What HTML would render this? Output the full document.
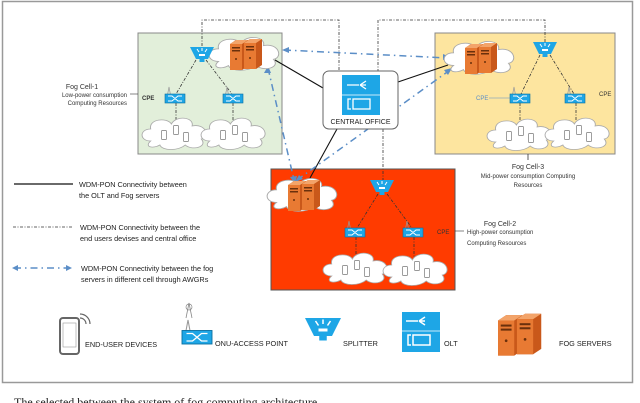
<!DOCTYPE html>
<html><head><meta charset="utf-8"><style>
body{margin:0;background:#fff}
svg{display:block;font-family:"Liberation Sans",sans-serif}
</style></head><body>
<svg width="640" height="403" viewBox="0 0 640 403" xmlns="http://www.w3.org/2000/svg">
<defs>
<g id="cloud">
<path d="M-22,8 C-32,8 -32,-4 -22,-4 C-24,-14 -8,-16 -4,-9 C0,-18 16,-16 14,-7 C26,-10 30,4 22,6 C28,14 14,18 8,12 C2,18 -12,18 -14,12 C-20,16 -28,14 -22,8 Z" fill="#fff" stroke="#aaa" stroke-width="0.8"/>
</g>
<g id="phone"><rect x="-2.5" y="-4.5" width="5" height="9" rx="0.8" fill="#fff" stroke="#777" stroke-width="0.7"/></g>
<g id="phones"><use href="#phone" x="-12" y="2"/><use href="#phone" x="0" y="-3"/><use href="#phone" x="10" y="4"/></g>
<g id="srv">
<polygon points="0,4 6,0 18,0 18,26 12,30 0,30" fill="#c9581a"/>
<polygon points="0,4 6,0 18,0 12,4" fill="#f3a46a"/>
<rect x="0" y="4" width="12" height="26" fill="#e87a33"/>
<rect x="2" y="7" width="8" height="1.5" fill="#6a300c"/><rect x="2" y="10" width="8" height="1.5" fill="#6a300c"/>
<circle cx="6" cy="19" r="1" fill="#6a300c"/>
</g>
<g id="srv2"><use href="#srv" x="-17" y="-14"/><use href="#srv" x="-3" y="-15"/></g>
<g id="spl">
<polygon points="-12,-8 12,-8 6,4 -6,4" fill="#1ea6e6"/>
<rect x="-2.5" y="3" width="5" height="4" fill="#1ea6e6"/>
<path d="M-3,-1 h6 v2 h-6z" fill="#fff"/><path d="M-5,-6 l2,3 M0,-7 v3 M5,-6 l-2,3" stroke="#fff" stroke-width="1"/>
</g>
<g id="onu">
<path d="M-9,4 L-6,-12 L-3,4" stroke="#999" stroke-width="0.7" fill="none"/>
<rect x="-10" y="-5" width="20" height="9" fill="#1ea6e6" stroke="#0b6fa0" stroke-width="0.6"/>
<path d="M-7,-3 h4 l6,5 h4 M-7,2 h4 l6,-5 h4" stroke="#fff" stroke-width="0.9" fill="none"/>
</g>
</defs>
<rect x="2.5" y="1.5" width="630" height="381" fill="#fff" stroke="#999" stroke-width="1.5"/>

<rect x="138" y="33" width="144" height="121" fill="#e2efda" stroke="#888" stroke-width="1"/>
<rect x="435" y="33" width="180" height="121" fill="#fde59f" stroke="#888" stroke-width="1"/>
<rect x="271" y="169" width="184" height="121" fill="#ff3b00" stroke="#555" stroke-width="1"/>

<g stroke="#333" stroke-width="0.8" fill="none" stroke-dasharray="3,1.5,1,1.5">
<path d="M202,46 V20 H339 V71"/><path d="M545,42 V20 H378 V71"/><path d="M383,129 V182"/>
<path d="M196,60 L176,94 M206,60 L232,94 M176,103 V122 M233,103 V122"/>
<path d="M540,55 L521,94 M550,55 L574,94 M520,103 V122 M576,103 V122"/>
<path d="M378,194 L357,228 M387,194 L412,228 M356,237 V258 M414,237 V258"/>
</g>

<g stroke="#111" stroke-width="1.1" fill="none">
<path d="M275,60 L323,88"/><path d="M398,82 L448,65"/><path d="M337,129 L310,178"/>
</g>
<g stroke="#5b8ec7" stroke-width="1.5" fill="none" stroke-dasharray="7,4,1.5,4">
<path d="M284,50 L448,58"/><path d="M450,70 L297,180"/><path d="M268,68 L294,180"/>
<path d="M14,268 H68"/>
</g>
<g fill="#5b8ec7">
<polygon points="282,50 289,47 289,53"/><polygon points="450,57 443,54 443,60"/>
<polygon points="452,68 444,70 448,75"/><polygon points="295,182 299,175 303,179"/>
<polygon points="268,66 264,73 271,73"/><polygon points="295,184 290,177 297,176"/>
<polygon points="12,268 18,265 18,271"/><polygon points="72,268 66,265 66,271"/>
</g>

<use href="#cloud" transform="translate(246,53) scale(1.25,1.05)"/><use href="#srv2" x="247" y="54"/>
<use href="#cloud" transform="translate(481,57) scale(1.25,1.05)"/><use href="#srv2" x="482" y="58"/>
<use href="#cloud" transform="translate(304,194) scale(1.25,1.05)"/><use href="#srv2" x="305" y="195"/>
<use href="#spl" x="202" y="55"/><use href="#spl" x="545" y="50"/><use href="#spl" x="382" y="188"/>
<use href="#onu" x="175" y="99"/><use href="#onu" x="233" y="99"/>
<use href="#onu" x="520" y="99"/><use href="#onu" x="575" y="99"/>
<use href="#onu" x="355" y="233"/><use href="#onu" x="413" y="233"/>
<g transform="translate(176,133) scale(1.15,1)"><use href="#cloud"/></g><use href="#phones" x="176" y="133"/>
<g transform="translate(235,133) scale(1.15,1)"><use href="#cloud"/></g><use href="#phones" x="235" y="133"/>
<g transform="translate(521,134) scale(1.15,1)"><use href="#cloud"/></g><use href="#phones" x="521" y="134"/>
<g transform="translate(579,133) scale(1.15,1)"><use href="#cloud"/></g><use href="#phones" x="579" y="133"/>
<g transform="translate(357,268) scale(1.15,1)"><use href="#cloud"/></g><use href="#phones" x="357" y="268"/>
<g transform="translate(417,269) scale(1.15,1)"><use href="#cloud"/></g><use href="#phones" x="417" y="269"/>

<rect x="323" y="71" width="75" height="58" rx="6" fill="#fff" stroke="#666" stroke-width="1"/>
<rect x="342" y="75" width="38" height="40" fill="#1ea6e6"/>
<line x1="342" y1="95" x2="380" y2="95" stroke="#fff" stroke-width="0.8"/>
<path d="M347,85 h12 M360,85 l6,-4 M360,85 l6,0 M360,85 l6,4" stroke="#fff" stroke-width="1.3"/>
<rect x="353" y="99" width="17" height="10" fill="none" stroke="#fff" stroke-width="1.3"/>
<path d="M351,99 h-3 v10 h3" stroke="#fff" stroke-width="1.3" fill="none"/>
<text x="360.5" y="124" font-size="7" text-anchor="middle" fill="#222">CENTRAL OFFICE</text>

<g font-size="6" fill="#333">
<text x="82" y="89" font-size="7" text-anchor="middle">Fog Cell-1</text>
<text x="127" y="97" text-anchor="end">Low-power consumption</text>
<text x="127" y="105" text-anchor="end">Computing Resources</text>
<line x1="130" y1="94" x2="138" y2="94" stroke="#333" stroke-width="0.6"/>
<text x="142" y="100" font-weight="bold">CPE</text>
<text x="476" y="100" fill="#5b8ec7">CPE</text>
<line x1="489" y1="98" x2="510" y2="98" stroke="#5b8ec7" stroke-width="0.6"/>
<text x="599" y="96">CPE</text>
<line x1="528" y1="154" x2="528" y2="160" stroke="#333" stroke-width="0.8"/>
<text x="528" y="169" font-size="7" text-anchor="middle">Fog Cell-3</text>
<text x="528" y="178" text-anchor="middle">Mid-power consumption Computing</text>
<text x="528" y="187" text-anchor="middle">Resources</text>
<text x="437" y="234" fill="#333">CPE</text>
<line x1="455" y1="231" x2="464" y2="231" stroke="#333" stroke-width="0.6"/>
<text x="500" y="226" font-size="7" text-anchor="middle">Fog Cell-2</text>
<text x="467" y="234">High-power consumption</text>
<text x="467" y="245">Computing Resources</text>
</g>

<line x1="14" y1="184" x2="73" y2="184" stroke="#111" stroke-width="1.2"/>
<line x1="13" y1="227" x2="72" y2="227" stroke="#333" stroke-width="0.8" stroke-dasharray="3,1.5,1,1.5"/>
<g font-size="7.3" fill="#222">
<text x="79" y="187">WDM-PON Connectivity between</text>
<text x="79" y="198">the OLT and Fog servers</text>
<text x="80" y="230">WDM-PON Connectivity between the</text>
<text x="80" y="241">end users devises and central office</text>
<text x="81" y="271">WDM-PON Connectivity between the fog</text>
<text x="81" y="282">servers in different cell through AWGRs</text>
</g>

<rect x="60" y="318" width="19" height="36" rx="3" fill="#fff" stroke="#666" stroke-width="2"/>
<rect x="63" y="323" width="13" height="24" fill="#fff" stroke="#999" stroke-width="0.6"/>
<path d="M80,318 a6,6 0 0 1 6,6 M80,314 a10,10 0 0 1 10,10" stroke="#666" stroke-width="1.2" fill="none"/>
<g transform="translate(197,338) scale(1.5)"><use href="#onu"/></g>
<path d="M186,318 l3,-15 l3,15" stroke="#888" fill="none" stroke-width="0.8"/>
<circle cx="189" cy="307" r="3" fill="none" stroke="#888" stroke-width="0.7"/>
<g transform="translate(323,330) scale(1.5)"><use href="#spl"/></g>
<rect x="402" y="312" width="38" height="40" fill="#1ea6e6"/>
<line x1="402" y1="331" x2="440" y2="331" stroke="#fff" stroke-width="0.8"/>
<path d="M406,321 h12 M419,321 l6,-4 M419,321 l6,0 M419,321 l6,4" stroke="#fff" stroke-width="1.5"/>
<rect x="413" y="335" width="17" height="10" fill="none" stroke="#fff" stroke-width="1.5"/>
<path d="M411,335 h-3 v10 h3" stroke="#fff" stroke-width="1.5" fill="none"/>
<g transform="translate(521,334) scale(1.35)"><use href="#srv2"/></g>
<g font-size="7.3" fill="#222">
<text x="85" y="347">END-USER DEVICES</text>
<text x="215" y="346">ONU-ACCESS POINT</text>
<text x="343" y="346">SPLITTER</text>
<text x="444" y="346">OLT</text>
<text x="559" y="346">FOG SERVERS</text>
</g>
<text x="14" y="406" font-family="Liberation Serif" font-size="12" fill="#222">The selected between the system of fog computing architecture</text>
</svg>
</body></html>
